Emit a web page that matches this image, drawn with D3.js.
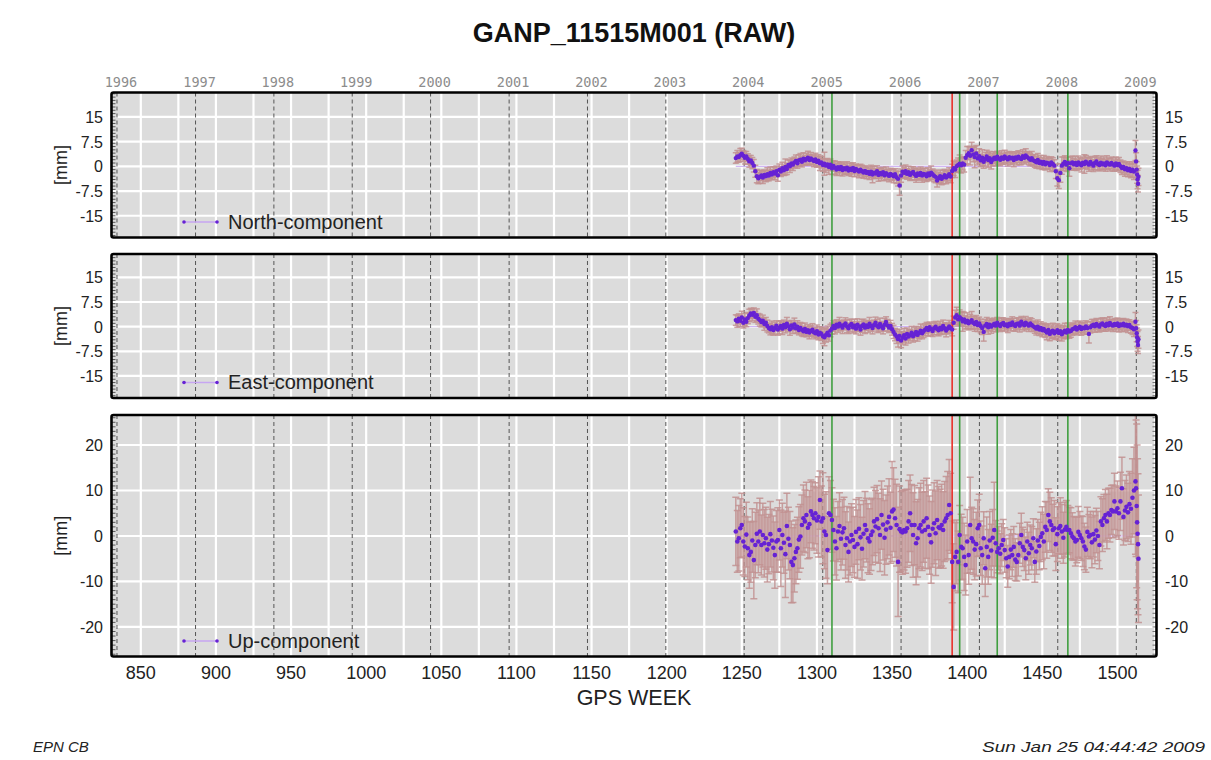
<!DOCTYPE html>
<html><head><meta charset="utf-8">
<script src="https://cdn.jsdelivr.net/npm/d3@7"></script>
<style>body{margin:0;background:#fff;}svg{display:block;}</style>
</head><body><svg id="c" width="1211" height="760"></svg>
<script>
// ---------------- DATA ----------------
const title = "GANP_11515M001 (RAW)";
const weekStart = 1246; // first weekly solution, one value per week
const tailWeeks = [1512.0,1512.4,1512.8,1513.1,1513.4,1513.7,1514.0];
const yearLabels = [1996,1997,1998,1999,2000,2001,2002,2003,2004,2005,2006,2007,2008,2009];
const xTickLabels = [850,900,950,1000,1050,1100,1150,1200,1250,1300,1350,1400,1450,1500];
const greenWeeks = [1310,1395,1420,1467];
const redWeeks = [1390];
const neTicks = [15,7.5,0,-7.5,-15];
const upTicks = [20,10,0,-10,-20];

const northValues = [
 2.5,3.0,2.8,3.4,3.8,3.2,2.6,3.0,
 2.2,1.5,1.8,1.0,0.2,
 -1.5,-3.0,-3.6,-3.2,
 -2.8,-3.4,-2.6,-3.0,-2.4,-2.8,-2.0,-2.5,-1.8,-2.2,-1.5,-2.7,
 -1.0,-1.6,-0.6,-1.2,-0.2,-0.8,0.4,0.0,0.9,0.5,
 1.2,1.6,0.9,1.8,2.0,1.4,2.3,1.8,2.2,2.6,1.9,2.4,2.0,1.6,2.1,1.3,1.7,0.9,1.2,0.4,0.8,
 0.2,0.6,-0.2,0.5,-0.6,0.1,-0.4,-1.0,-0.3,-0.8,-0.2,-1.1,-0.6,
 -0.9,-0.4,-1.3,-0.7,-1.1,-0.5,-1.4,-0.8,-1.2,-1.6,-1.0,-1.5,-1.9,
 -1.4,-2.0,-1.7,-2.3,-1.6,-2.5,-1.9,-2.2,-1.5,-2.6,-2.0,-2.4,-1.8,-2.7,-2.1,-2.5,-2.9,-2.3,
 -2.6,-3.0,-2.4,-3.3,-3.8,-5.8,-2.8,-1.6,
 -2.0,-1.5,-2.3,-1.8,-2.6,-2.1,-1.7,-2.4,-2.9,-2.2,-2.6,-2.0,-2.8,-2.3,-2.5,-3.0,-2.2,-2.7,-1.9,-2.4,-2.9,
 -3.2,-4.3,-3.6,-3.0,-3.8,-3.3,-2.7,-3.4,-3.0,-2.4,-3.1,
 -1.4,-0.6,-1.0,0.0,0.4,0.8,0.3,0.9,0.5,
 2.6,3.4,4.0,3.2,4.9,3.6,2.8,3.9,
 2.4,3.1,1.8,2.6,1.4,2.2,3.0,1.9,2.5,1.3,2.0,
 2.6,2.2,2.9,2.4,2.0,2.7,2.3,3.0,2.5,2.1,2.8,2.4,2.6,1.9,2.7,2.3,2.9,2.5,2.2,3.1,2.6,3.3,2.8,2.4,2.0,2.5,1.8,
 1.6,1.2,1.9,1.0,1.4,0.8,1.3,0.6,1.1,0.9,0.4,1.2,0.7,0.2,
 -1.5,-3.6,-4.2,-2.0,0.2,
 0.8,1.3,0.5,1.0,-0.6,0.9,1.2,
 0.6,1.0,0.4,1.2,0.8,0.3,1.1,0.7,1.4,0.9,0.5,1.3,0.8,0.2,1.0,1.5,0.7,0.4,1.1,0.6,0.9,0.3,1.2,0.8,0.5,1.0,0.6,0.2,0.9,0.4,0.7,
 0.0,-0.5,-0.2,-0.9,-0.6,-1.2,-0.8,-1.4,-1.0,-1.6
];
const northSigma = [
 1.6,1.8,1.5,2.0,1.7,1.6,1.9,1.5,
 1.6,1.8,1.5,1.7,1.9,
 1.8,2.0,1.7,1.9,
 1.6,1.8,1.5,1.7,2.0,1.6,1.8,1.5,1.7,1.9,1.6,1.8,
 1.7,1.5,1.8,1.6,2.4,1.7,1.5,1.9,1.6,1.8,
 1.6,1.8,1.5,1.7,1.9,1.6,1.8,1.5,1.7,2.0,1.6,1.8,1.5,1.7,1.9,1.6,1.8,2.2,1.7,1.9,3.5,
 2.0,1.8,2.2,1.7,1.9,1.6,2.0,1.8,1.7,1.9,1.6,1.8,1.7,
 1.6,1.8,1.5,1.7,1.9,1.6,1.8,1.5,1.7,1.9,1.6,1.8,1.7,
 1.6,1.8,1.5,1.7,1.9,2.5,1.8,1.5,1.7,1.9,1.6,1.8,1.5,1.7,1.9,1.6,1.8,1.7,
 1.8,2.0,1.7,1.9,2.2,3.0,2.0,1.8,
 1.7,1.9,1.6,1.8,1.7,2.0,1.6,1.8,1.9,1.7,1.6,1.8,2.0,1.7,1.9,1.6,1.8,1.7,2.0,1.6,1.8,
 1.8,2.0,1.7,1.9,1.8,2.0,1.7,1.9,1.8,2.0,1.9,
 2.0,2.2,2.4,1.9,2.1,2.6,2.3,2.0,2.2,
 2.2,2.6,2.0,2.8,2.4,2.2,3.2,2.4,
 2.0,2.2,1.9,2.4,2.0,2.1,1.9,2.2,2.0,2.1,1.9,
 1.8,2.0,1.7,1.9,1.8,2.0,1.7,1.9,1.8,2.0,1.7,1.9,1.8,2.0,1.7,1.9,1.8,2.0,1.7,1.9,1.8,2.0,1.7,1.9,1.8,2.0,1.7,
 1.9,1.8,2.0,1.7,1.9,1.8,2.0,1.7,1.9,1.8,2.0,1.7,1.9,1.8,
 2.2,2.4,2.5,2.8,2.6,
 2.0,1.9,2.1,1.8,2.4,2.0,1.9,
 1.8,2.0,1.7,1.9,1.8,2.0,1.7,2.8,1.9,1.8,2.0,1.7,1.9,1.8,2.0,1.7,1.9,1.8,2.0,1.7,1.9,1.8,2.0,1.7,1.9,1.8,2.0,1.7,1.9,1.8,2.0,
 1.9,2.0,1.8,2.1,1.9,2.0,2.2,2.1,2.3,2.4
];
const northTail = [4.8,1.5,-1.0,-2.5,-4.0,-5.3,-3.2];
const northTailSigma = [3.0,2.6,2.4,2.6,2.8,2.5,2.6];

const eastValues = [
 2.0,1.6,2.4,1.8,2.8,1.2,2.2,1.5,
 2.6,3.4,4.0,3.6,4.2,3.0,3.5,2.4,
 2.0,1.4,1.8,0.8,1.2,0.2,-0.4,
 -0.8,-0.2,-1.0,-0.5,0.3,-0.9,-0.3,
 0.2,-0.6,0.5,-0.2,0.9,0.1,-0.8,0.4,-0.3,0.7,-0.5,0.0,-1.0,-0.4,
 -0.9,-1.4,-0.7,-1.6,-1.1,-1.8,-1.3,-0.9,-1.7,-2.0,-1.4,-2.4,-1.8,-2.2,-2.9,
 -3.2,-2.5,-1.8,-2.6,-1.2,-0.6,
 0.2,-0.4,0.6,0.0,0.9,0.3,-0.3,0.5,1.0,0.1,-0.5,0.4,0.8,-0.2,0.3,-0.6,0.6,0.0,-0.9,0.2,
 0.7,-0.3,0.4,-0.1,0.9,0.2,-0.4,0.5,1.2,0.3,-0.2,0.8,0.1,-0.5,0.6,1.4,0.4,-0.3,0.2,
 -0.8,-1.6,-2.4,-3.0,-3.8,-2.8,-4.2,-3.4,-2.6,-3.6,
 -2.2,-3.0,-2.6,-1.8,-2.9,-2.3,-1.6,-2.5,-1.9,-1.2,-2.0,-1.4,-0.9,
 -0.4,-1.0,-0.2,-0.8,-1.3,-0.5,0.0,-0.7,-1.1,-0.3,-0.8,0.2,-0.5,-1.2,-0.6,0.1,-0.4,-0.9,
 1.2,2.8,3.5,2.2,2.9,2.4,
 1.6,2.2,1.3,1.8,1.0,1.5,2.0,1.2,0.8,1.4,
 0.5,1.0,0.2,-0.4,-1.6,0.3,0.8,-0.2,0.6,0.0,0.4,
 0.9,0.3,1.2,0.6,0.2,0.8,1.1,0.4,0.7,0.1,0.9,0.5,1.3,0.6,0.2,0.8,1.0,0.3,1.5,0.9,0.4,1.2,0.7,0.3,1.0,0.5,0.1,
 -0.2,-0.6,0.0,-0.9,-0.4,-1.1,-0.7,
 -1.3,-1.8,-1.0,-2.2,-1.5,-1.2,-2.0,-1.6,-1.1,-1.9,-1.4,-2.3,-1.7,-1.2,-1.8,-1.0,-1.5,-1.3,-0.8,
 -0.6,-0.2,-0.9,-0.4,0.0,-0.7,-0.3,-0.5,0.1,-0.4,-2.2,
 -0.2,0.3,0.6,0.1,0.8,0.4,0.0,0.7,1.0,0.5,0.2,0.9,0.4,1.1,0.6,0.3,0.8,0.5,1.0,0.2,0.7,0.4,0.9,0.3,0.6,0.1,0.5,-0.2,
 -0.4,-0.8
];
const eastSigma = [
 1.6,1.8,1.5,1.7,1.9,1.6,1.8,1.5,
 1.7,1.9,1.6,1.8,1.5,1.7,1.9,1.6,
 1.8,1.5,1.7,1.9,1.6,1.8,1.5,
 1.7,1.9,1.6,1.8,1.5,1.7,1.9,
 1.6,1.8,1.5,1.7,1.9,1.6,1.8,1.5,1.7,1.9,1.6,1.8,1.5,1.7,
 1.9,1.6,1.8,1.5,1.7,1.9,1.6,1.8,1.5,1.7,1.9,1.6,1.8,2.0,2.2,
 2.6,2.2,2.0,1.8,1.9,1.7,
 1.6,1.8,1.5,1.7,1.9,1.6,1.8,1.5,1.7,1.9,1.6,1.8,1.5,1.7,1.9,1.6,1.8,1.5,1.7,1.9,
 1.6,1.8,1.5,1.7,1.9,1.6,1.8,1.5,1.7,1.9,1.6,1.8,1.5,1.7,1.9,1.6,1.8,1.5,1.7,
 1.8,2.0,1.9,2.1,2.4,2.0,2.2,1.9,2.1,2.0,
 1.8,2.0,1.7,1.9,1.8,2.0,1.7,1.9,1.8,2.0,1.7,1.9,1.8,
 1.7,1.9,1.6,1.8,1.7,1.9,1.6,1.8,1.7,1.9,1.6,1.8,1.7,1.9,1.6,1.8,1.7,1.9,
 2.0,2.2,2.4,2.0,2.2,2.0,
 3.0,2.2,2.0,2.4,2.0,2.2,2.6,2.0,2.2,2.0,
 2.0,1.9,2.1,2.0,2.8,1.9,2.0,2.1,1.9,2.0,1.8,
 1.7,1.9,1.6,1.8,1.7,1.9,1.6,1.8,1.7,1.9,1.6,1.8,1.7,1.9,1.6,1.8,1.7,1.9,1.6,1.8,1.7,1.9,1.6,1.8,1.7,1.9,1.6,
 1.8,1.9,2.0,1.8,1.9,2.0,1.8,
 2.0,2.2,1.9,2.1,2.0,2.2,1.9,2.1,2.0,2.2,1.9,2.1,2.0,2.2,1.9,2.1,2.0,1.9,1.8,
 1.7,1.9,1.6,1.8,1.7,1.9,1.6,1.8,1.7,1.9,2.8,
 1.7,1.9,1.6,1.8,1.7,1.9,1.6,1.8,1.7,1.9,1.6,1.8,1.7,1.9,1.6,1.8,1.7,1.9,1.6,1.8,1.7,1.9,1.6,1.8,1.7,1.9,1.6,1.8,
 2.0,2.2
];
const eastTail = [1.5,-0.5,-2.0,-3.2,-4.5,-5.6,-3.8];
const eastTailSigma = [2.8,2.4,2.6,2.8,3.0,2.6,2.8];

const upValues = [
 1.0,-1.2,-0.5,1.7,2.4,-1.2,-2.3,0.3,-2.7,-4.2,-3.5,-1.0,-5.3,-2.0,0.5,
 -1.2,1.0,-2.0,0.2,-1.6,-0.5,-3.0,-1.8,0.4,-1.0,-2.6,
 -4.2,-1.2,-0.9,1.3,-2.7,0.2,-1.5,-4.0,2.2,-0.6,-2.0,
 -5.7,-6.4,-4.9,-3.5,-2.7,-0.8,
 -0.1,2.4,3.9,3.2,4.6,1.8,2.6,
 5.4,4.6,3.9,5.0,3.4,4.2,7.9,
 3.2,3.9,1.0,0.2,-3.1,5.0,
 4.6,3.5,1.3,-1.2,-2.7,1.0,2.2,-0.6,0.8,
 1.7,-2.0,-0.5,-3.5,-1.2,0.2,-0.9,-2.4,0.9,-1.8,1.6,-0.3,-2.8,0.5,
 2.4,1.3,-0.5,-1.2,0.2,1.0,3.2,2.1,3.7,1.7,0.2,4.6,2.5,-0.4,1.4,3.0,4.2,1.8,
 5.4,5.8,3.9,2.4,-5.7,1.5,1.0,0.8,
 1.3,1.0,1.7,3.2,5.0,2.4,0.2,2.4,-1.6,-0.5,1.7,2.4,1.0,3.2,1.3,3.9,2.0,0.2,-1.4,1.6,2.8,0.6,3.5,1.9,
 1.7,2.4,1.3,3.2,3.9,4.6,6.8,5.0,
 -5.7,-11.2,-4.6,-3.5,-5.7,
 0.2,-2.4,-2.7,-4.6,-6.4,-1.2,-4.2,2.4,-0.5,-1.2,-3.0,-1.8,
 1.7,2.4,-2.7,-4.2,-0.5,-7.1,-2.4,-4.6,-1.0,-3.2,-0.4,
 1.3,-1.6,-3.5,-2.7,-3.9,-2.0,-0.9,-3.1,-4.9,-6.7,-4.6,-3.0,-4.2,-2.4,-5.2,
 -5.7,-4.2,-1.6,0.2,-2.4,-3.1,-4.9,-1.2,-3.8,-2.0,-2.7,-0.5,-5.7,-3.4,-1.0,-2.2,-0.2,0.6,
 -1.2,2.0,1.3,4.6,3.2,2.4,1.3,1.7,-1.8,0.4,1.7,2.2,1.0,-0.4,1.4,2.0,
 1.3,1.3,0.6,-0.1,-0.5,-1.2,-0.9,0.9,0.2,-0.5,-1.2,-2.3,-3.0,0.9,-0.1,0.2,-1.4,0.4,-0.8,1.2,0.0,-2.0,
 3.2,2.4,3.9,4.6,3.2,5.0,4.6,5.7,5.4,7.6,5.4,6.1,5.0,7.6,10.5,4.2,5.6,6.4,5.2,7.0,6.0,8.4,10.0
];
const upSigma = [
 7.5,6.8,7.2,6.5,7.0,7.4,6.6,7.1,6.9,7.3,6.7,7.0,8.5,7.2,6.8,
 6.9,7.3,6.6,7.0,7.4,6.8,7.1,6.5,7.2,6.9,7.0,
 7.3,6.8,7.1,6.6,8.4,7.0,6.7,9.5,7.2,6.9,7.4,
 9.0,8.2,7.4,7.0,6.8,7.2,
 7.0,6.6,7.3,6.9,7.2,6.8,7.4,
 6.9,7.3,7.0,6.7,7.2,8.8,6.4,
 7.8,10.0,8.2,9.5,7.4,8.0,
 7.6,7.1,6.8,7.4,7.0,6.6,7.3,6.9,7.2,
 6.8,7.3,7.0,6.6,7.4,6.9,7.2,6.7,7.1,7.5,6.8,7.2,6.9,7.3,
 7.4,7.0,7.6,7.2,7.8,7.3,7.5,7.9,7.4,7.7,8.0,7.5,7.8,8.2,7.6,8.0,8.4,7.8,
 11.0,9.2,8.6,9.0,12.0,9.5,8.8,9.2,
 8.8,9.2,8.6,9.0,8.4,8.9,9.3,8.7,9.1,8.5,8.9,9.2,8.6,9.0,8.4,8.8,9.2,8.6,9.0,8.5,8.9,9.3,8.7,9.0,
 8.6,9.0,8.4,8.8,9.2,9.6,10.0,8.8,
 9.0,9.5,7.5,7.0,6.8,
 6.5,7.2,6.8,7.4,6.6,7.0,6.4,10.5,6.8,7.2,6.6,7.0,
 6.2,6.8,6.0,6.4,5.8,6.2,6.6,6.0,6.4,5.8,6.2,
 10.5,5.0,4.6,4.8,4.4,4.7,4.5,4.9,4.3,4.6,4.8,4.4,4.7,4.5,4.6,
 4.2,4.6,4.4,4.8,4.3,4.5,4.7,4.2,4.6,4.4,4.8,4.3,4.5,5.0,4.6,5.2,5.4,5.8,
 6.0,5.6,6.2,5.8,6.4,6.0,5.7,6.1,5.8,6.0,5.6,6.2,5.9,5.6,6.0,5.8,
 5.4,5.0,5.6,5.2,4.8,5.4,5.0,5.6,5.2,4.9,5.5,5.1,5.0,5.4,4.8,5.2,5.6,5.0,5.3,4.9,5.4,5.2,
 5.4,5.8,5.2,5.6,6.0,5.5,5.9,5.4,5.8,6.2,5.6,6.0,5.7,6.4,6.8,6.2,6.6,7.0,6.4,7.2,7.8,8.6,9.5
];
const upTail = [12.0,10.5,6.6,3.0,0.5,-1.8,-5.0];
const upTailSigma = [16.0,15.0,18.0,17.0,16.5,15.5,14.0];

// ---------------- LAYOUT / STYLE ----------------
const svg = d3.select("#c");
const FONT = "'Liberation Sans', Arial, Helvetica, sans-serif";
const xLeft = 111.5, xRight = 1156.5;
const x = d3.scaleLinear().domain([830.5, 1526]).range([xLeft, xRight]);
const gpsWeekOfYear = y => (Date.UTC(y,0,1) - Date.UTC(1980,0,6)) / (7*86400000);

const panels = [
  {name:"North-component", vals:northValues, sig:northSigma, tail:northTail, tailSig:northTailSigma,
   top:92.5, bottom:237.5, domain:[-21.6,22.4], ticks:neTicks, r:2.2, cap:3},
  {name:"East-component", vals:eastValues, sig:eastSigma, tail:eastTail, tailSig:eastTailSigma,
   top:254, bottom:398, domain:[-21.7,22.1], ticks:neTicks, r:2.2, cap:3},
  {name:"Up-component", vals:upValues, sig:upSigma, tail:upTail, tailSig:upTailSigma,
   top:415, bottom:656.5, domain:[-26.5,26.6], ticks:upTicks, r:2.3, cap:3.5}
];

svg.append("rect").attr("width",1211).attr("height",760).attr("fill","#fff");

// title
svg.append("text").attr("x",634).attr("y",42).attr("text-anchor","middle")
  .attr("font-family",FONT).attr("font-weight","bold").attr("font-size",27)
  .attr("fill","#111").text(title);

// top year labels
svg.append("g").selectAll("text").data(yearLabels).join("text")
  .attr("x",d=>x(gpsWeekOfYear(d))+4).attr("y",87).attr("text-anchor","middle")
  .attr("font-family","'DejaVu Sans Mono', monospace").attr("font-size",13.5)
  .attr("fill","#8c8c8c").text(d=>d);

const gridWeeks = d3.range(850, 1526, 25);

panels.forEach((p,pi)=>{
  const y = d3.scaleLinear().domain(p.domain).range([p.bottom, p.top]);
  const g = svg.append("g");
  const clipId = "clip"+pi;
  svg.append("clipPath").attr("id",clipId).append("rect")
    .attr("x",xLeft).attr("y",p.top).attr("width",xRight-xLeft).attr("height",p.bottom-p.top);
  const inner = g.append("g").attr("clip-path",`url(#${clipId})`);
  inner.append("rect").attr("x",xLeft).attr("y",p.top).attr("width",xRight-xLeft)
    .attr("height",p.bottom-p.top).attr("fill","#dcdcdc");
  // white grid
  inner.selectAll(".vg").data(gridWeeks).join("line")
    .attr("x1",d=>x(d)).attr("x2",d=>x(d)).attr("y1",p.top).attr("y2",p.bottom)
    .attr("stroke","#fff").attr("stroke-width",2.2);
  inner.selectAll(".hg").data(p.ticks).join("line")
    .attr("x1",xLeft).attr("x2",xRight).attr("y1",d=>y(d)).attr("y2",d=>y(d))
    .attr("stroke","#fff").attr("stroke-width",2.2);
  // year lines
  inner.selectAll(".yl").data(yearLabels).join("line")
    .attr("x1",d=>x(gpsWeekOfYear(d))).attr("x2",d=>x(gpsWeekOfYear(d)))
    .attr("y1",p.top).attr("y2",p.bottom)
    .attr("stroke","#555").attr("stroke-width",1).attr("stroke-dasharray","4,3");
  // minor ticks on left/right edges (every 1 mm)
  const minor = d3.range(Math.ceil(p.domain[0]), Math.floor(p.domain[1])+1, 1);
  inner.selectAll(".mtl").data(minor).join("line")
    .attr("x1",xLeft).attr("x2",xLeft+4).attr("y1",d=>y(d)).attr("y2",d=>y(d))
    .attr("stroke","#333").attr("stroke-width",0.8);
  inner.selectAll(".mtr").data(minor).join("line")
    .attr("x1",xRight-4).attr("x2",xRight).attr("y1",d=>y(d)).attr("y2",d=>y(d))
    .attr("stroke","#555").attr("stroke-width",0.8);

  // data points
  const pts = p.vals.map((v,i)=>({w:weekStart+i, v, s:(p.sig[i] ?? p.sig[p.sig.length-1])}))
    .concat(p.tail.map((v,i)=>({w:tailWeeks[i], v, s:p.tailSig[i]})));
  // zero reference line across the data span
  inner.append("line").attr("x1",x(pts[0].w)).attr("x2",x(pts[pts.length-1].w))
    .attr("y1",y(0)).attr("y2",y(0)).attr("stroke","#c7a6f2").attr("stroke-width",1);
  const eb = inner.append("g").attr("stroke","#c29292").attr("stroke-opacity",0.85).attr("stroke-width",1.5);
  eb.selectAll(".ev").data(pts).join("line")
    .attr("x1",d=>x(d.w)).attr("x2",d=>x(d.w)).attr("y1",d=>y(d.v-d.s)).attr("y2",d=>y(d.v+d.s));
  eb.selectAll(".et").data(pts).join("line")
    .attr("x1",d=>x(d.w)-p.cap).attr("x2",d=>x(d.w)+p.cap).attr("y1",d=>y(d.v+d.s)).attr("y2",d=>y(d.v+d.s));
  eb.selectAll(".eb").data(pts).join("line")
    .attr("x1",d=>x(d.w)-p.cap).attr("x2",d=>x(d.w)+p.cap).attr("y1",d=>y(d.v-d.s)).attr("y2",d=>y(d.v-d.s));
  // event lines
  inner.selectAll(".gl").data(greenWeeks).join("line")
    .attr("x1",d=>x(d)).attr("x2",d=>x(d)).attr("y1",p.top).attr("y2",p.bottom)
    .attr("stroke","#3f9e3f").attr("stroke-width",1.6);
  inner.selectAll(".rl").data(redWeeks).join("line")
    .attr("x1",d=>x(d)).attr("x2",d=>x(d)).attr("y1",p.top).attr("y2",p.bottom)
    .attr("stroke","#e8302a").attr("stroke-width",1.6);
  inner.selectAll(".pt").data(pts).join("circle")
    .attr("cx",d=>x(d.w)).attr("cy",d=>y(d.v)).attr("r",p.r).attr("fill","#6622d4");

  // legend
  const ly = p.bottom - 15.5;
  g.append("line").attr("x1",184).attr("x2",217).attr("y1",ly).attr("y2",ly)
    .attr("stroke","#c7a6f2").attr("stroke-width",1.5);
  g.selectAll(".ld").data([184,217]).join("circle").attr("cx",d=>d).attr("cy",ly)
    .attr("r",1.8).attr("fill","#6622d4");
  g.append("text").attr("x",228).attr("y",ly+6.5).attr("font-family",FONT).attr("font-size",20)
    .attr("fill","#222").text(p.name);

  // frame
  g.append("rect").attr("x",xLeft).attr("y",p.top).attr("width",xRight-xLeft).attr("height",p.bottom-p.top)
    .attr("fill","none").attr("stroke","#000").attr("stroke-width",2.6).attr("rx",2);

  // tick labels left and right
  g.selectAll(".tl").data(p.ticks).join("text")
    .attr("x",103).attr("y",d=>y(d)+6).attr("text-anchor","end")
    .attr("font-family",FONT).attr("font-size",16).attr("fill","#222").text(d=>d);
  g.selectAll(".tr").data(p.ticks).join("text")
    .attr("x",1165).attr("y",d=>y(d)+6).attr("text-anchor","start")
    .attr("font-family",FONT).attr("font-size",16).attr("fill","#222").text(d=>d);
  // y-axis title
  const cy = (p.top+p.bottom)/2;
  g.append("text").attr("transform",`translate(67,${cy}) rotate(-90)`).attr("text-anchor","middle")
    .attr("font-family",FONT).attr("font-size",18).attr("fill","#222").text("[mm]");
});

// bottom axis
svg.append("g").selectAll("text").data(xTickLabels).join("text")
  .attr("x",d=>x(d)).attr("y",679).attr("text-anchor","middle")
  .attr("font-family",FONT).attr("font-size",18).attr("fill","#222").text(d=>d);
svg.append("text").attr("x",634).attr("y",705).attr("text-anchor","middle")
  .attr("font-family",FONT).attr("font-size",21.5).attr("fill","#222").text("GPS WEEK");

// footer
svg.append("text").attr("x",33).attr("y",752).attr("font-family",FONT).attr("font-style","italic")
  .attr("font-size",15).attr("fill","#222").text("EPN CB");
svg.append("text").attr("x",1205).attr("y",752).attr("text-anchor","end").attr("font-family",FONT)
  .attr("font-style","italic").attr("font-size",15).attr("textLength",223).attr("lengthAdjust","spacingAndGlyphs")
  .attr("fill","#222").text("Sun Jan 25 04:44:42 2009");
</script></body></html>
